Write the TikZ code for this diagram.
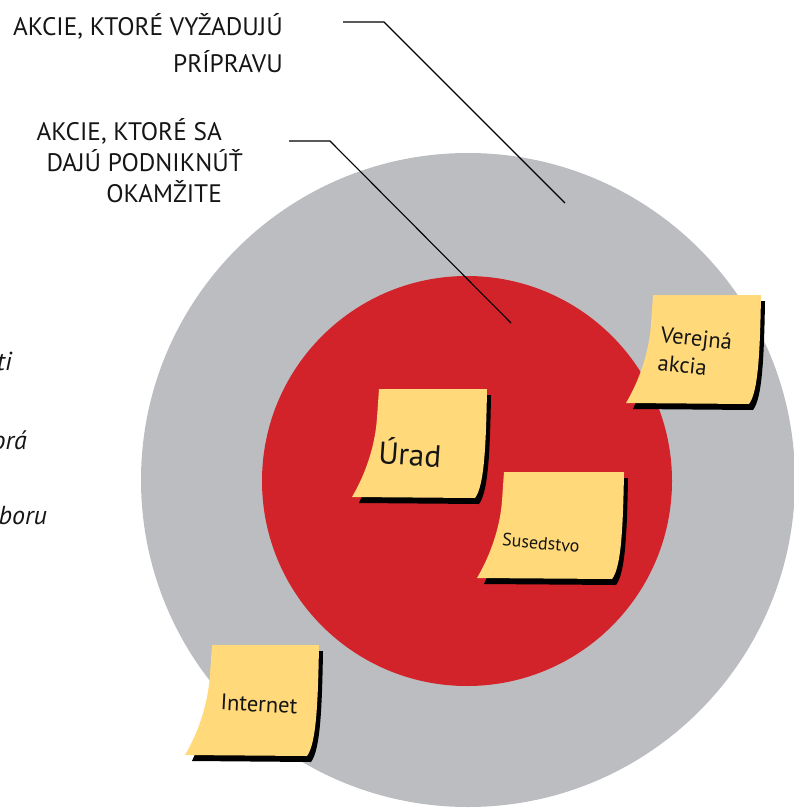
\documentclass[tikz,border=0pt]{standalone}
\usepackage{fontspec}
\setmainfont{PT Sans}
\definecolor{ringgray}{HTML}{BCBDC0}
\definecolor{corered}{HTML}{D2232A}
\definecolor{noteyellow}{HTML}{FFD97A}
\definecolor{inkblack}{HTML}{151515}
\tikzset{
  heading/.style={font=\fontsize{25.3}{29}\selectfont, text=inkblack, inner sep=0pt},
  cuttext/.style={font=\fontsize{26}{30}\selectfont\itshape, text=inkblack, inner sep=0pt},
  leader/.style={draw=black, line width=1.1pt},
  notefill/.style={fill=noteyellow},
  noteshadow/.style={fill=black},
  notetext/.style={text=inkblack, inner sep=0pt, align=left}
}
% #1 x, #2 y of top-left corner, #3 width, #4 height
\newcommand{\stickynote}[4]{%
  \begin{scope}[shift={(#1,#2)}]
    \fill[noteshadow,shift={(4,6)}] (0,0) -- (#3,0)
      .. controls ({#3-1},{0.55*#4}) and ({#3-3},{0.9*#4}) .. ({#3-12},{#4+1})
      -- (-24,#4)
      .. controls (-14,{#4-22}) and (-4,{#4-50}) .. (-2,29) -- cycle;
    \fill[notefill] (0,0) -- (#3,0)
      .. controls ({#3-1},{0.55*#4}) and ({#3-3},{0.9*#4}) .. ({#3-12},{#4+1})
      -- (-27,#4)
      .. controls (-14,{#4-22}) and (-4,{#4-50}) .. (-2,29) -- cycle;
  \end{scope}}
\begin{document}
\begin{tikzpicture}[x=1pt,y=-1pt]
\useasboundingbox (0,0) rectangle (794,808);
\fill[ringgray] (468,480) circle[radius=327pt];
\fill[corered] (467,481) circle[radius=205pt];

% leader lines
\coordinate (l1a) at (343,22);
\coordinate (l1b) at (384,22);
\coordinate (l1c) at (565,203);
\coordinate (l2a) at (289,141);
\coordinate (l2b) at (330,141);
\coordinate (l2c) at (511,323);
\draw[leader] (l1a) -- (l1b) -- (l1c);
\draw[leader] (l2a) -- (l2b) -- (l2c);

% headings
\node[heading, anchor=base east] (h1a) at (283,36) {AKCIE, KTORÉ VYŽADUJÚ};
\node[heading, anchor=base east] (h1b) at (283,73) {PRÍPRAVU};
\node[heading, anchor=base east] (h2a) at (222,140) {AKCIE, KTORÉ SA};
\node[heading, anchor=base east] (h2b) at (243,171) {DAJÚ PODNIKNÚŤ};
\node[heading, anchor=base east] (h2c) at (222,202) {OKAMŽITE};

% cut-off italic text on the left
\node[cuttext, anchor=base east] (c1) at (12,370) {ti};
\node[cuttext, anchor=base east] (c2) at (27,449) {orá};
\node[cuttext, anchor=base east] (c3) at (47,524) {boru};

% sticky notes
\stickynote{379}{389}{108}{108}
\stickynote{504}{472}{120}{106}
\stickynote{653}{295}{108}{108}
\stickynote{212}{645}{107}{110}

\node[notetext, font=\fontsize{31}{34}\selectfont, rotate=-4] (urad) at (410,452) {Úrad};
\node[notetext, font=\fontsize{18}{21}\selectfont, rotate=-5] (sused) at (541,543) {Susedstvo};
\node[notetext, font=\fontsize{22.5}{28}\selectfont, rotate=-6] (verejna) at (695,352) {Verejná\\akcia};
\node[notetext, font=\fontsize{22.5}{26}\selectfont, rotate=-3] (internet) at (259,704) {Internet};
\end{tikzpicture}
\end{document}
